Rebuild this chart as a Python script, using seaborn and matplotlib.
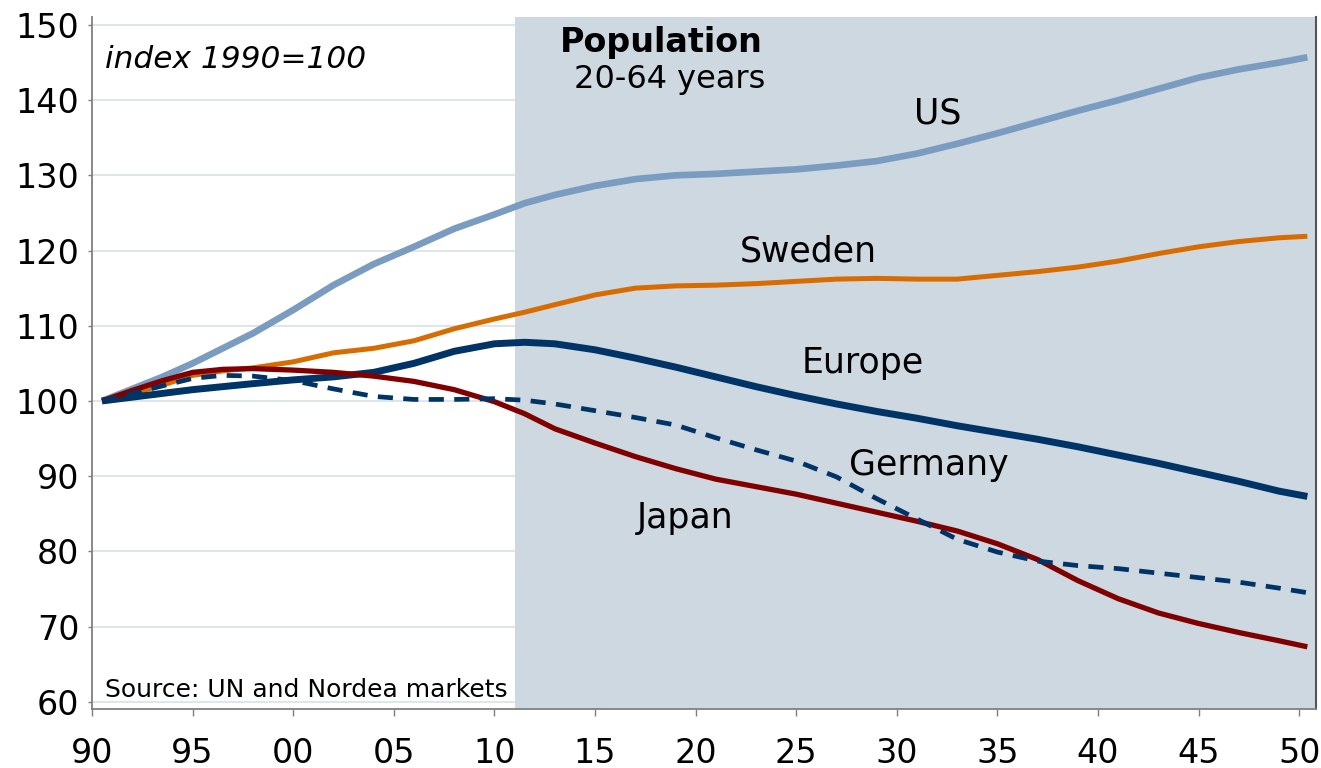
import seaborn as sns
import matplotlib.pyplot as plt
import pandas as pd

# sample points (index 1990=100)
years = [1990.5, 1992, 1993.5, 1995, 1996.5, 1998, 2000, 2002, 2004, 2006, 2008, 2010,
         2011.5, 2013, 2015, 2017, 2019, 2021, 2023, 2025, 2027, 2029, 2031, 2033,
         2035, 2037, 2039, 2041, 2043, 2045, 2047, 2049, 2050.4]

us = [100, 101.6, 103.2, 105.0, 107.0, 109.0, 112.1, 115.4, 118.2, 120.5, 122.9, 124.8,
      126.3, 127.4, 128.6, 129.5, 130.0, 130.2, 130.5, 130.8, 131.3, 131.9, 132.9, 134.2,
      135.6, 137.1, 138.6, 140.0, 141.5, 143.0, 144.1, 145.0, 145.7]

sweden = [100, 101.0, 102.1, 103.4, 104.0, 104.4, 105.2, 106.4, 107.0, 108.0, 109.6, 110.9,
          111.8, 112.8, 114.1, 115.0, 115.3, 115.4, 115.6, 115.9, 116.2, 116.3, 116.2, 116.2,
          116.7, 117.2, 117.8, 118.6, 119.6, 120.5, 121.2, 121.7, 121.9]

europe = [100, 100.5, 101.0, 101.5, 101.9, 102.3, 102.8, 103.2, 103.8, 105.0, 106.6, 107.6,
          107.8, 107.6, 106.8, 105.7, 104.5, 103.2, 101.9, 100.7, 99.6, 98.6, 97.7, 96.7,
          95.8, 94.9, 93.9, 92.8, 91.7, 90.5, 89.3, 88.0, 87.3]

germany = [100, 101.0, 102.0, 103.0, 103.4, 103.3, 102.7, 101.6, 100.6, 100.2, 100.2, 100.3,
           100.1, 99.6, 98.7, 97.8, 96.8, 95.1, 93.5, 92.0, 89.9, 87.0, 84.3, 81.6,
           79.9, 78.7, 78.1, 77.7, 77.1, 76.5, 75.9, 75.1, 74.5]

japan = [100, 101.4, 102.7, 103.8, 104.2, 104.3, 104.1, 103.8, 103.3, 102.6, 101.5, 99.9,
         98.3, 96.3, 94.4, 92.6, 91.0, 89.6, 88.6, 87.6, 86.4, 85.2, 84.0, 82.7,
         81.0, 78.9, 76.1, 73.7, 71.8, 70.4, 69.2, 68.1, 67.3]

xticks = list(range(1990, 2051, 5))
xtick_labels = ["90", "95", "00", "05", "10", "15", "20", "25", "30", "35", "40", "45", "50"]
yticks = list(range(60, 151, 10))

sns.set_style("white")
plt.rcParams['font.family'] = ['DejaVu Sans']
plt.rcParams['text.color'] = 'black'

fig = plt.figure(figsize=(13.21, 7.68), dpi=100)
ax = fig.add_axes([0.06965, 0.07682, 0.92657, 0.90104])

# forecast shading
ax.axvspan(2011, 2051, color="#cdd8e0", zorder=1.5, lw=0)

series = [
    ("US", us, "#7a9cc1", 4.8, "-"),
    ("Sweden", sweden, "#d86c00", 3.6, "-"),
    ("Europe", europe, "#003366", 5.0, "-"),
    ("Japan", japan, "#800000", 3.8, "-"),
    ("Germany", germany, "#003366", 3.4, "--"),
]
for name, vals, col, lw, ls in series:
    df = pd.DataFrame({"year": years, "value": vals})
    sns.lineplot(data=df, x="year", y="value", color=col, linewidth=lw, ax=ax, zorder=3)
    if ls == "--":
        ax.lines[-1].set_dashes((3.2, 2.2))
    ax.lines[-1].set_solid_capstyle("butt")
    ax.lines[-1].set_solid_joinstyle("round")

ax.set_xlim(1990, 2050.83)
ax.set_ylim(59.03, 151.06)
ax.set_xticks(xticks)
ax.set_xticklabels(xtick_labels)
ax.set_yticks(yticks)
ax.set_xlabel("")
ax.set_ylabel("")

ax.grid(axis="y", color="#d9e1e8", linewidth=1.2)
ax.set_axisbelow(True)
ax.tick_params(axis="y", labelsize=24, length=3, width=1, color="#808080", pad=6,
               direction="out", left=True, labelcolor="black")
ax.tick_params(axis="x", labelsize=24, length=5, width=1, color="#808080", pad=15,
               direction="out", bottom=True, labelcolor="black")

for s in ["left", "bottom"]:
    ax.spines[s].set_color("#808080")
    ax.spines[s].set_linewidth(1.3)
ax.spines["top"].set_visible(False)
ax.spines["right"].set_color("#555555")
ax.spines["right"].set_linewidth(1.5)

# annotations
ax.text(1990.65, 144.3, "index 1990=100", fontsize=22.5, style="italic", ha="left", va="baseline")
ax.text(1990.65, 60.67, "Source: UN and Nordea markets", fontsize=18, ha="left", va="baseline")
ax.text(2018.3, 146.45, "Population", fontsize=24, fontweight="bold", ha="center", va="baseline")
ax.text(2018.7, 141.58, "20-64 years", fontsize=23, ha="center", va="baseline")

ax.text(2032.05, 136.93, "US", fontsize=25, ha="center", va="baseline")
ax.text(2025.6, 118.61, "Sweden", fontsize=25, ha="center", va="baseline")
ax.text(2028.3, 103.76, "Europe", fontsize=25, ha="center", va="baseline")
ax.text(2031.6, 90.15, "Germany", fontsize=25, ha="center", va="baseline")
ax.text(2019.47, 83.06, "Japan", fontsize=25, ha="center", va="baseline")

fig.savefig("out.png", dpi=100)
